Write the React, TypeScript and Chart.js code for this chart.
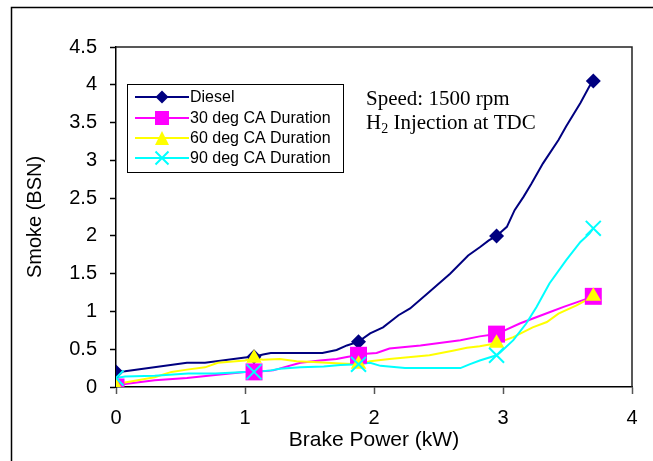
import React, { useEffect, useRef } from 'react';
import { Chart, registerables } from 'chart.js';

Chart.register(...registerables);

// Brake power at each measured load point (kW)
const brakePower = [0, 1.07, 1.88, 2.95, 3.7];

// Measured smoke (BSN) at each load point
const dieselSmoke = [0.2, 0.4, 0.6, 2.0, 4.05];
const ca30Smoke = [0, 0.2, 0.42, 0.7, 1.2];
const ca60Smoke = [0, 0.38, 0.3, 0.58, 1.2];
const ca90Smoke = [0.12, 0.2, 0.3, 0.42, 2.1];

// Curve traces between the load points: [brake power, smoke]
const dieselTrace: [number, number][] = [
  [0, 0.2], [0.07, 0.21], [0.55, 0.32], [0.69, 0.32], [1.0, 0.39], [1.07, 0.4],
  [1.14, 0.43], [1.2, 0.45], [1.6, 0.45], [1.71, 0.49], [1.79, 0.55], [1.88, 0.6],
  [1.97, 0.71], [2.07, 0.79], [2.19, 0.95], [2.28, 1.04], [2.43, 1.26], [2.59, 1.5],
  [2.73, 1.74], [2.82, 1.85], [2.89, 1.94], [2.95, 2.0], [3.03, 2.12], [3.09, 2.34],
  [3.16, 2.52], [3.22, 2.69], [3.31, 2.96], [3.43, 3.27], [3.49, 3.45], [3.6, 3.76],
  [3.67, 3.98], [3.7, 4.05],
];
const ca30Trace: [number, number][] = [
  [0, 0], [0.07, 0.04], [0.3, 0.09], [0.55, 0.12], [0.77, 0.16], [1.0, 0.2], [1.07, 0.2],
  [1.22, 0.22], [1.3, 0.26], [1.43, 0.32], [1.58, 0.35], [1.71, 0.37], [1.8, 0.4],
  [1.88, 0.42], [1.94, 0.44], [2.02, 0.45], [2.12, 0.51], [2.36, 0.55], [2.67, 0.62],
  [2.82, 0.67], [2.95, 0.7], [3.13, 0.84], [3.36, 0.99], [3.47, 1.06], [3.62, 1.15],
  [3.7, 1.2],
];
const ca60Trace: [number, number][] = [
  [0, 0], [0.07, 0.06], [0.3, 0.13], [0.43, 0.2], [0.55, 0.23], [0.69, 0.26], [0.79, 0.32],
  [1.0, 0.35], [1.07, 0.38], [1.14, 0.36], [1.27, 0.37], [1.4, 0.34], [1.53, 0.33],
  [1.74, 0.31], [1.88, 0.3], [1.97, 0.34], [2.12, 0.37], [2.43, 0.42], [2.61, 0.48],
  [2.72, 0.52], [2.82, 0.54], [2.95, 0.58], [3.08, 0.66], [3.23, 0.79], [3.34, 0.86],
  [3.43, 0.97], [3.57, 1.08], [3.7, 1.2],
];
const ca90Trace: [number, number][] = [
  [0, 0.12], [0.07, 0.14], [0.3, 0.15], [0.56, 0.18], [0.77, 0.18], [1.0, 0.2], [1.07, 0.2],
  [1.2, 0.22], [1.27, 0.24], [1.43, 0.26], [1.61, 0.27], [1.74, 0.29], [1.88, 0.3],
  [1.97, 0.32], [2.05, 0.28], [2.24, 0.25], [2.67, 0.25], [2.74, 0.3], [2.82, 0.35],
  [2.95, 0.42], [2.98, 0.46], [3.08, 0.62], [3.18, 0.84], [3.26, 1.06], [3.36, 1.37],
  [3.49, 1.68], [3.6, 1.92], [3.67, 2.03], [3.7, 2.1],
];

const seriesLabels = ['Diesel', '30 deg CA Duration', '60 deg CA Duration', '90 deg CA Duration'];
const xTicks = [0, 1, 2, 3, 4];
const yTicks = [0, 0.5, 1, 1.5, 2, 2.5, 3, 3.5, 4, 4.5];
const noteLine1 = 'Speed: 1500 rpm';
const noteLine2 = ['H', '2', ' Injection at TDC'];

const SANS = "'Liberation Sans', Arial, sans-serif";
const SERIF = "'Liberation Serif', 'Times New Roman', serif";

type Mark = 'rectRot' | 'rect' | 'triangle' | 'crossRot';

const series: { label: string; color: string; marks: number[]; trace: [number, number][]; style: Mark; radius: number }[] = [
  { label: seriesLabels[0], color: '#000080', marks: dieselSmoke, trace: dieselTrace, style: 'rectRot', radius: 7.5 },
  { label: seriesLabels[1], color: '#FF00FF', marks: ca30Smoke, trace: ca30Trace, style: 'rect', radius: 12 },
  { label: seriesLabels[2], color: '#FFFF00', marks: ca60Smoke, trace: ca60Trace, style: 'triangle', radius: 9 },
  { label: seriesLabels[3], color: '#00FFFF', marks: ca90Smoke, trace: ca90Trace, style: 'crossRot', radius: 10.6 },
];

function drawMark(ctx: CanvasRenderingContext2D, style: Mark, color: string, x: number, y: number, size: number) {
  ctx.save();
  ctx.fillStyle = color;
  ctx.strokeStyle = color;
  ctx.beginPath();
  const h = size / 2;
  if (style === 'rectRot') {
    ctx.moveTo(x - h, y); ctx.lineTo(x, y - h); ctx.lineTo(x + h, y); ctx.lineTo(x, y + h);
    ctx.closePath(); ctx.fill();
  } else if (style === 'rect') {
    ctx.rect(x - h, y - h, size, size); ctx.fill();
  } else if (style === 'triangle') {
    ctx.moveTo(x, y - h); ctx.lineTo(x + h, y + h); ctx.lineTo(x - h, y + h);
    ctx.closePath(); ctx.fill();
  } else {
    ctx.lineWidth = 2;
    ctx.moveTo(x - h, y - h); ctx.lineTo(x + h, y + h);
    ctx.moveTo(x + h, y - h); ctx.lineTo(x - h, y + h);
    ctx.stroke();
  }
  ctx.restore();
}

const decorPlugin = {
  id: 'decor',
  beforeDraw(chart: any) {
    const ctx: CanvasRenderingContext2D = chart.ctx;
    ctx.save();
    ctx.fillStyle = '#ffffff';
    ctx.fillRect(0, 0, chart.width, chart.height);
    // outer chart frame
    ctx.strokeStyle = '#000';
    ctx.lineWidth = 1.5;
    ctx.beginPath();
    ctx.moveTo(11.5, chart.height);
    ctx.lineTo(11.5, 7.5);
    ctx.lineTo(chart.width, 7.5);
    ctx.stroke();
    ctx.restore();
  },
  afterDraw(chart: any) {
    const ctx: CanvasRenderingContext2D = chart.ctx;
    const a = chart.chartArea;
    ctx.save();
    // plot area top and right edges
    ctx.strokeStyle = '#222';
    ctx.lineWidth = 1.5;
    ctx.beginPath();
    ctx.moveTo(a.left, a.top);
    ctx.lineTo(a.right, a.top);
    ctx.lineTo(a.right, a.bottom);
    ctx.stroke();

    // legend box
    const lx = 127.5, ly = 84.5, lw = 216, lh = 88;
    ctx.fillStyle = '#fff';
    ctx.fillRect(lx, ly, lw, lh);
    ctx.strokeStyle = '#000';
    ctx.lineWidth = 1;
    ctx.strokeRect(lx, ly, lw, lh);
    const rows = [97, 118, 138, 158];
    const legendSize = [13, 14, 14, 13];
    ctx.font = `16px ${SANS}`;
    ctx.textBaseline = 'middle';
    ctx.textAlign = 'left';
    series.forEach((s, i) => {
      const y = rows[i];
      ctx.strokeStyle = s.color;
      ctx.lineWidth = 2;
      ctx.beginPath();
      ctx.moveTo(135, y);
      ctx.lineTo(189, y);
      ctx.stroke();
      drawMark(ctx, s.style, s.color, 162, y, legendSize[i]);
      ctx.fillStyle = '#000';
      ctx.fillText(s.label, 190, y + 1);
    });

    // operating-condition note
    ctx.fillStyle = '#000';
    ctx.textBaseline = 'alphabetic';
    ctx.font = `21px ${SERIF}`;
    ctx.fillText(noteLine1, 366, 104.5);
    let x = 366;
    ctx.fillText(noteLine2[0], x, 129);
    x += ctx.measureText(noteLine2[0]).width;
    ctx.font = `14px ${SERIF}`;
    ctx.fillText(noteLine2[1], x, 133);
    x += ctx.measureText(noteLine2[1]).width;
    ctx.font = `21px ${SERIF}`;
    ctx.fillText(noteLine2[2], x, 129);
    ctx.restore();
  },
};

export default function App() {
  const canvasRef = useRef<HTMLCanvasElement | null>(null);

  useEffect(() => {
    const canvas = canvasRef.current;
    if (!canvas) return;

    const datasets: any[] = [];
    series.forEach((s, i) => {
      datasets.push({
        label: s.label + ' trace',
        data: s.trace.map(([x, y]) => ({ x, y })),
        showLine: true,
        borderColor: s.color,
        borderWidth: 2,
        pointRadius: 0,
        tension: 0,
        order: 20 - i,
      });
    });
    series.forEach((s, i) => {
      datasets.push({
        label: s.label,
        data: brakePower.map((x, j) => ({ x, y: s.marks[j] })),
        showLine: false,
        pointStyle: s.style,
        pointRadius: s.radius,
        backgroundColor: s.color,
        borderColor: s.color,
        borderWidth: s.style === 'crossRot' ? 2 : 0,
        order: 10 - i,
      });
    });

    const chart = new Chart(canvas, {
      type: 'scatter',
      data: { datasets },
      plugins: [decorPlugin],
      options: {
        responsive: false,
        animation: false,
        events: [],
        devicePixelRatio: 1,
        layout: { padding: { left: 0, right: 21, top: 47, bottom: 0 } },
        plugins: { legend: { display: false }, tooltip: { enabled: false } },
        scales: {
          x: {
            type: 'linear',
            min: 0,
            max: 4,
            afterFit: (scale: any) => { scale.height = 74; },
            afterBuildTicks: (scale: any) => { scale.ticks = xTicks.map((v) => ({ value: v })); },
            grid: { drawOnChartArea: false, drawTicks: true, tickLength: 7, tickColor: '#555', tickWidth: 1.5 },
            border: { display: true, color: '#000', width: 1.5 },
            ticks: {
              color: '#000',
              font: { family: SANS, size: 20 },
              padding: 12,
              maxRotation: 0,
              callback: (v: any) => String(v),
            },
            title: {
              display: true,
              text: 'Brake Power (kW)',
              color: '#000',
              font: { family: SANS, size: 21 },
              padding: { top: 0, bottom: 8 },
            },
          },
          y: {
            type: 'linear',
            min: 0,
            max: 4.5,
            afterFit: (scale: any) => { scale.width = 116; },
            afterBuildTicks: (scale: any) => { scale.ticks = yTicks.map((v) => ({ value: v })); },
            grid: { drawOnChartArea: false, drawTicks: true, tickLength: 6, tickColor: '#000', tickWidth: 1.5 },
            border: { display: true, color: '#000', width: 1.5 },
            ticks: {
              color: '#000',
              font: { family: SANS, size: 20 },
              padding: 13,
              callback: (v: any) => String(v),
            },
            title: {
              display: true,
              text: 'Smoke (BSN)',
              color: '#000',
              font: { family: SANS, size: 20 },
              padding: { top: 23, bottom: 0 },
            },
          },
        },
      },
    });

    return () => chart.destroy();
  }, []);

  return (
    <div style={{ position: 'absolute', left: 0, top: 0, width: 653, height: 461, background: '#fff' }}>
      <canvas ref={canvasRef} width={653} height={461} style={{ display: 'block', width: 653, height: 461 }} />
    </div>
  );
}
